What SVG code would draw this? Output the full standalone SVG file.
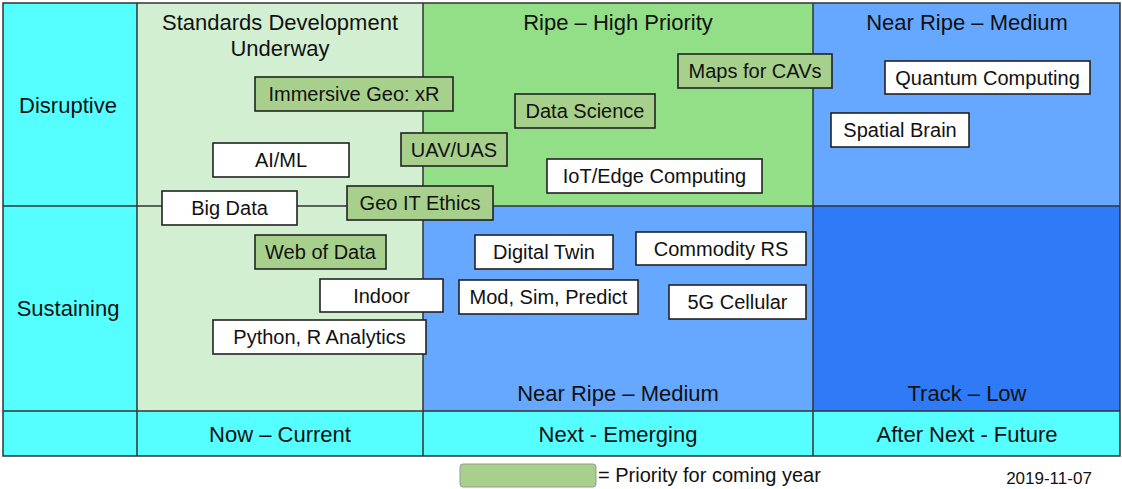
<svg xmlns="http://www.w3.org/2000/svg" width="1122" height="489" viewBox="0 0 1122 489">
<style>
text{font-family:"Liberation Sans",Arial,sans-serif;fill:#111;text-anchor:middle}
.h{font-size:22px}
.b{font-size:20px}
.line{stroke:#333;stroke-width:1.5;fill:none}
.bw{fill:#fff;stroke:#222;stroke-width:1.6}
.bg{fill:#a8d08d;stroke:#222;stroke-width:1.6}
</style>
<rect width="1122" height="489" fill="#fff"/>
<g id="grid">
<rect x="3" y="3" width="134" height="453" fill="#55ffff"/>
<rect x="137" y="3" width="286" height="408" fill="#d2efd1"/>
<rect x="423" y="3" width="390" height="203" fill="#93df87"/>
<rect x="423" y="206" width="390" height="205" fill="#66a7ff"/>
<rect x="813" y="3" width="307" height="203" fill="#66a7ff"/>
<rect x="813" y="206" width="307" height="205" fill="#2e7af7"/>
<rect x="137" y="411" width="983" height="45" fill="#55ffff"/>
</g>
<g id="connectors">
<rect class="line" x="3" y="3" width="1117" height="453" stroke="#555"/>
<line class="line" x1="137" y1="3" x2="137" y2="456"/>
<line class="line" x1="423" y1="3" x2="423" y2="456"/>
<line class="line" x1="813" y1="3" x2="813" y2="456"/>
<line class="line" x1="3" y1="206" x2="1120" y2="206"/>
<line class="line" x1="3" y1="411" x2="1120" y2="411"/>
</g>
<g id="labels">
<text class="h" x="280" y="30">Standards Development</text>
<text class="h" x="280" y="56">Underway</text>
<text class="h" x="618" y="30">Ripe – High Priority</text>
<text class="h" x="967" y="30">Near Ripe – Medium</text>
<text class="h" x="68" y="113">Disruptive</text>
<text class="h" x="68" y="316">Sustaining</text>
<text class="h" x="618" y="401">Near Ripe – Medium</text>
<text class="h" x="967" y="401">Track – Low</text>
<text class="h" x="280" y="442">Now – Current</text>
<text class="h" x="618" y="442">Next - Emerging</text>
<text class="h" x="967" y="442">After Next - Future</text>
</g>
<g id="immersive"><rect class="bg" x="255" y="77" width="198" height="34"/><text class="b" x="354" y="101">Immersive Geo: xR</text></g>
<g id="aiml"><rect class="bw" x="213" y="143" width="136" height="34"/><text class="b" x="281" y="167">AI/ML</text></g>
<g id="uav"><rect class="bg" x="401" y="133" width="106" height="33"/><text class="b" x="454" y="157">UAV/UAS</text></g>
<g id="bigdata"><rect class="bw" x="162" y="191" width="135" height="34"/><text class="b" x="229.5" y="215">Big Data</text></g>
<g id="geoit"><rect class="bg" x="347" y="186" width="146" height="34"/><text class="b" x="420" y="210">Geo IT Ethics</text></g>
<g id="maps"><rect class="bg" x="678" y="54" width="154" height="34"/><text class="b" x="755" y="78">Maps for CAVs</text></g>
<g id="datasci"><rect class="bg" x="515" y="94" width="140" height="34"/><text class="b" x="585" y="118">Data Science</text></g>
<g id="iot"><rect class="bw" x="547" y="159" width="215" height="34"/><text class="b" x="654.5" y="183">IoT/Edge Computing</text></g>
<g id="quantum"><rect class="bw" x="885" y="61" width="205" height="33"/><text class="b" x="987.5" y="85">Quantum Computing</text></g>
<g id="spatial"><rect class="bw" x="831" y="113" width="138" height="34"/><text class="b" x="900" y="137">Spatial Brain</text></g>
<g id="webofdata"><rect class="bg" x="255" y="235" width="131" height="34"/><text class="b" x="320.5" y="259">Web of Data</text></g>
<g id="indoor"><rect class="bw" x="320" y="279" width="123" height="33"/><text class="b" x="381.5" y="303">Indoor</text></g>
<g id="python"><rect class="bw" x="213" y="320" width="213" height="34"/><text class="b" x="319.5" y="344">Python, R Analytics</text></g>
<g id="digitaltwin"><rect class="bw" x="475" y="235" width="138" height="34"/><text class="b" x="544" y="259">Digital Twin</text></g>
<g id="commodity"><rect class="bw" x="636" y="232" width="170" height="33"/><text class="b" x="721" y="256">Commodity RS</text></g>
<g id="modsim"><rect class="bw" x="459" y="280" width="179" height="34"/><text class="b" x="548.5" y="304">Mod, Sim, Predict</text></g>
<g id="fiveg"><rect class="bw" x="669" y="285" width="137" height="34"/><text class="b" x="737.5" y="309">5G Cellular</text></g>
<g id="legend">
<rect x="460" y="464" width="136" height="23" rx="3" fill="#a8d08d" stroke="#999" stroke-width="1"/>
<text x="598" y="482" style="font-size:20px;text-anchor:start">= Priority for coming year</text>
<text x="1049" y="484" style="font-size:17px">2019-11-07</text>
</g>
</svg>
